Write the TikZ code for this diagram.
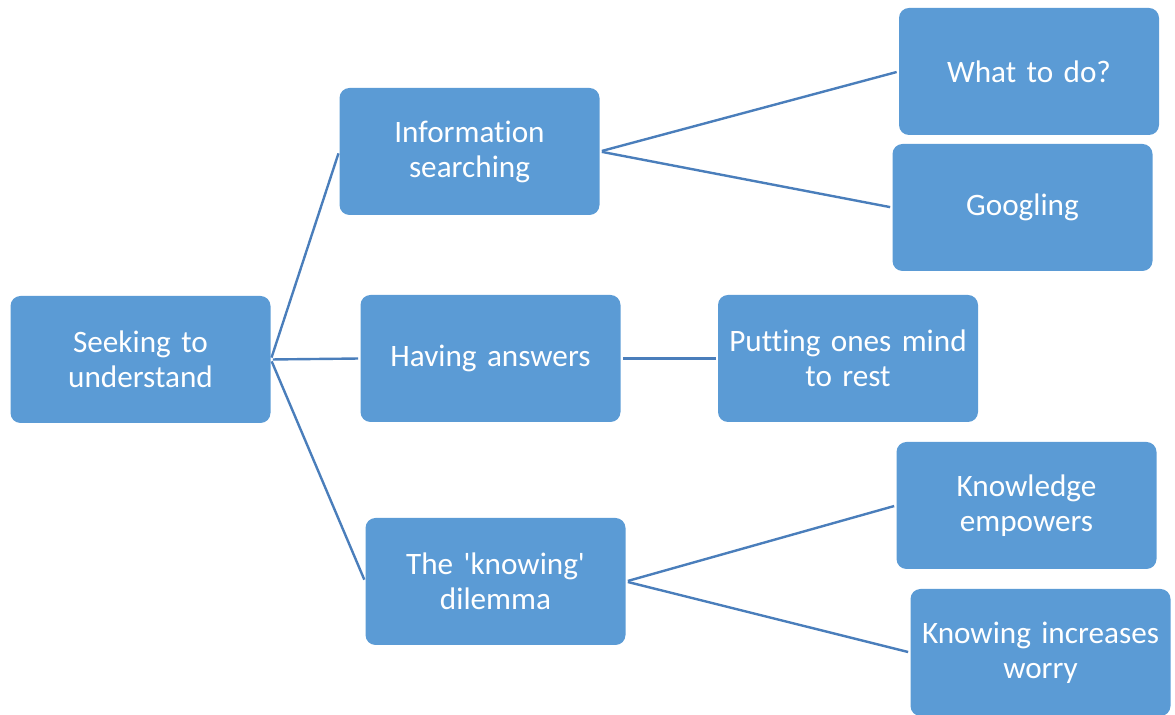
\documentclass[tikz,border=0pt]{standalone}
\usepackage{fontspec}
\setmainfont[Ligatures={NoCommon,TeXOff}]{Carlito}
\definecolor{boxblue}{HTML}{5B9BD5}
\definecolor{lineblue}{HTML}{4A7EBB}
\begin{document}
\begin{tikzpicture}[x=0.5pt,y=-0.5pt,
  box/.style={draw=none, fill=boxblue, rounded corners=5pt, minimum width=130pt, minimum height=63.5pt,
    inner sep=0pt, text=white, align=center, text width=128pt,
    font=\fontsize{15.6pt}{17.5pt}\selectfont},
  link/.style={draw=lineblue, line width=1.2pt, shorten <=1pt, shorten >=1pt}]
\useasboundingbox (0,0) rectangle (1175,715);
\node[box] (seek) at (140.5,359.5) {Seeking to\\understand};
\node[box] (info) at (469.5,151.5) {Information\\searching};
\node[box] (have) at (490.5,358.5) {Having answers};
\node[box] (know) at (495.5,581.5) {The 'knowing'\\dilemma};
\node[box] (what) at (1029,71.5) {What to do?};
\node[box] (goog) at (1022.5,207.5) {Googling};
\node[box] (rest) at (848,358.5) {Putting ones mind\\to rest};
\node[box] (emp) at (1026.5,505.5) {Knowledge\\empowers};
\node[box] (worry) at (1040.5,652.5) {Knowing increases\\worry};
\draw[link] (seek.east) -- (info.west);
\draw[link] (seek.east) -- (have.west);
\draw[link] (seek.east) -- (know.west);
\draw[link] (info.east) -- (what.west);
\draw[link] (info.east) -- (goog.west);
\draw[link] (have.east) -- (rest.west);
\draw[link] (know.east) -- (emp.west);
\draw[link] (know.east) -- (worry.west);
\end{tikzpicture}
\end{document}
